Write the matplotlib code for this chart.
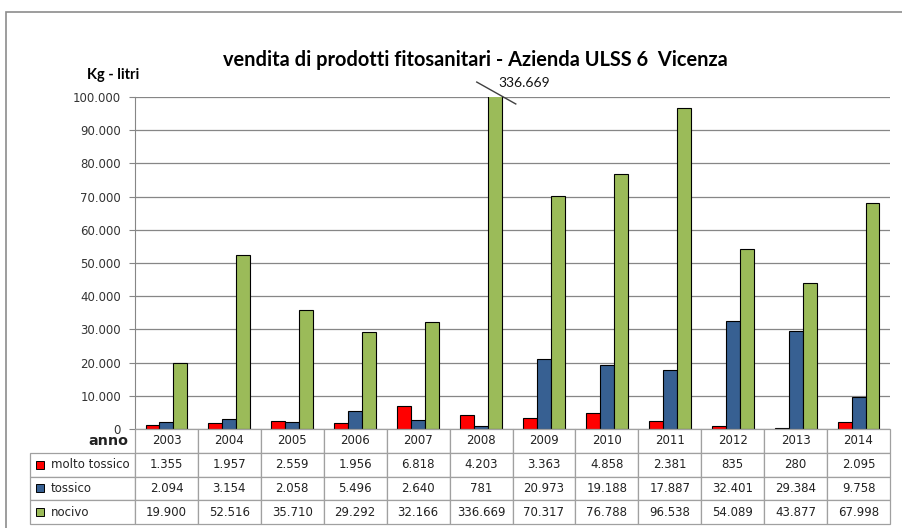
import numpy as np
import matplotlib
matplotlib.use("Agg")
import matplotlib.pyplot as plt
from matplotlib.patches import Rectangle
from matplotlib.table import Table
from matplotlib.ticker import FuncFormatter

# data
anni = ["2003", "2004", "2005", "2006", "2007", "2008", "2009",
        "2010", "2011", "2012", "2013", "2014"]
molto_tossico = [1355, 1957, 2559, 1956, 6818, 4203, 3363, 4858, 2381, 835, 280, 2095]
tossico = [2094, 3154, 2058, 5496, 2640, 781, 20973, 19188, 17887, 32401, 29384, 9758]
nocivo = [19900, 52516, 35710, 29292, 32166, 336669, 70317, 76788, 96538, 54089, 43877, 67998]
serie_nomi = ["molto tossico", "tossico", "nocivo"]
colori = ["#FF0000", "#376092", "#9BBB59"]
y_max = 100000


def fmt(v):
    return f"{v:,.0f}".replace(",", ".")


W, H = 902, 528
fig = plt.figure(figsize=(W / 100, H / 100), dpi=100)

# outer chart border (open on right/bottom like the screenshot)
fig.add_artist(Rectangle((6 / W, -0.1), 2, 1 - 12 / H + 0.1, transform=fig.transFigure,
                         fill=False, edgecolor="#8C8C8C", lw=1.2))

ax = fig.add_axes([135 / W, 1 - 429 / H, 755 / W, 332 / H])
x = np.arange(len(anni))
w = 0.222
series = [molto_tossico, tossico, nocivo]
for i, (vals, col) in enumerate(zip(series, colori)):
    ax.bar(x + (i - 1) * w, vals, width=w, color=col, edgecolor="black", linewidth=0.8, zorder=3)

ax.set_xlim(-0.5, len(anni) - 0.5)
ax.set_ylim(0, y_max)
ax.set_yticks(np.arange(0, y_max + 1, 10000))
ax.yaxis.set_major_formatter(FuncFormatter(lambda v, p: fmt(v)))
ax.tick_params(axis="y", labelsize=8.5, length=4, color="#868686", labelcolor="#333333", pad=6)
ax.set_xticks([])
ax.grid(axis="y", color="#868686", linewidth=0.9, zorder=0)
for s in ["top", "right", "bottom"]:
    ax.spines[s].set_visible(False)
ax.spines["left"].set_color("#868686")

# the clipped 2008 bar: break mark and value label
i_big = int(np.argmax(nocivo))
bx = i_big + w
ax.plot([bx - 0.29, bx + 0.33], [y_max + 4500, y_max - 2100], color="#404040",
        lw=1, clip_on=False, zorder=4)
ax.text(bx + 0.05, y_max + 4300, fmt(nocivo[i_big]), fontsize=10, family="Lato",
        va="center", ha="left", color="#111111")

# titles
fig.text(475 / W, 1 - 60 / H, "vendita di prodotti fitosanitari - Azienda ULSS 6  Vicenza",
         ha="center", va="center", fontsize=14.4, fontweight="bold", family="Lato")
fig.text(113 / W, 1 - 75 / H, "Kg - litri", ha="center", va="center",
         fontsize=10.5, fontweight="bold", family="Lato")

# data table under the chart
tax = fig.add_axes([30 / W, 1 - 524 / H, 860 / W, 95 / H])
tax.axis("off")
label_w = 105 / 860
col_w = 755 / 860 / len(anni)
n_rows = len(series) + 1
row_h = 1 / n_rows

tab = Table(tax, bbox=[0, 0, 1, 1])
hdr = tab.add_cell(0, 0, label_w, row_h, text="anno", loc="right")
hdr.visible_edges = ""
hdr.PAD = 0.06
for j, a in enumerate(anni):
    tab.add_cell(0, j + 1, col_w, row_h, text=a, loc="center")
for i, (nome, s) in enumerate(zip(serie_nomi, series)):
    c = tab.add_cell(i + 1, 0, label_w, row_h, text=nome, loc="left")
    c.PAD = 0.2
    for j, v in enumerate(s):
        tab.add_cell(i + 1, j + 1, col_w, row_h, text=fmt(v), loc="center")
tab.auto_set_font_size(False)
for (r, c), cell in tab.get_celld().items():
    cell.set_edgecolor("#A0A0A0")
    cell.set_linewidth(0.9)
    cell.get_text().set_color("#222222")
    cell.get_text().set_fontsize(8.5)
hdr.get_text().set_fontweight("bold")
hdr.get_text().set_fontsize(10.3)
tax.add_table(tab)

for i, col in enumerate(colori):
    yc = 1 - row_h * (i + 1.5)
    tax.add_patch(Rectangle((6 / 860, yc - 4 / 95), 8 / 860, 8 / 95, facecolor=col,
                            edgecolor="black", lw=0.7, transform=tax.transAxes, zorder=5))

fig.savefig("out.png", dpi=100)
